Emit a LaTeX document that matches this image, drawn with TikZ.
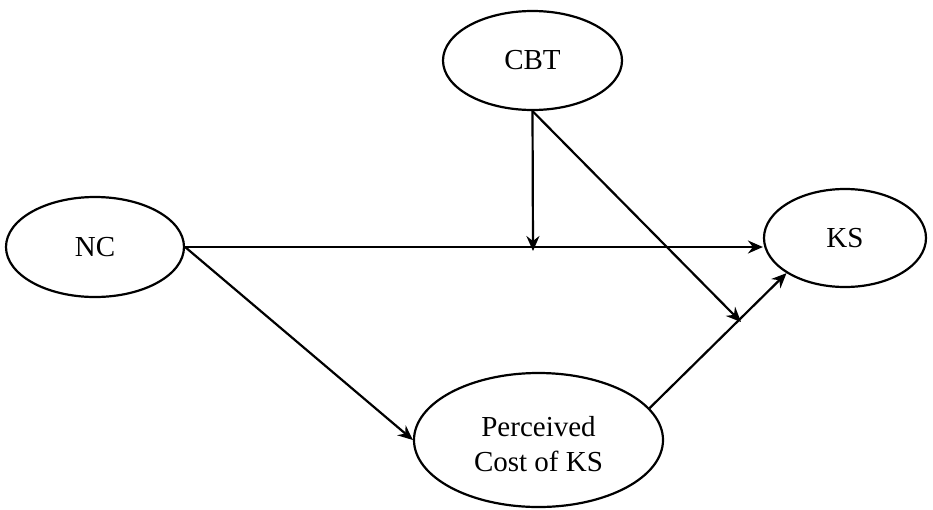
\documentclass[tikz,border=0pt]{standalone}
\usepackage{fontspec}
\setmainfont{Liberation Serif}
\usetikzlibrary{shapes.geometric,arrows.meta}
\begin{document}
\begin{tikzpicture}[x=1pt,y=-1pt,
  var/.style={draw,ellipse,line width=2.2pt,inner sep=0pt,align=center,
    font=\fontsize{29}{35}\selectfont},
  arr/.style={line width=2.2pt,-{Stealth[length=15pt,width=13pt,inset=5pt]}}]
\useasboundingbox (0,0) rectangle (933,509);
\node[var,minimum width=179pt,minimum height=99pt] (cbt) at (532.5,60.5) {CBT};
\node[var,minimum width=178pt,minimum height=100pt] (nc) at (95,247) {NC};
\node[var,minimum width=162pt,minimum height=98pt] (ks) at (845,238) {KS};
\node[var,minimum width=249pt,minimum height=134pt] (pc) at (538.5,440) {};
\node[font=\fontsize{29}{35}\selectfont,align=center] (pct) at (538.5,444) {Perceived\\Cost of KS};
\coordinate (m1) at (533,251);
\coordinate (m2) at (741,322);
\draw[arr] (nc.east) -- (ks.west |- nc.east);
\draw[arr] (cbt.south) -- (m1);
\draw[arr] (cbt.south) -- (m2);
\draw[arr] (nc.east) -- (pc.west);
\draw[arr] (pc.16.4) -- (ks.211);
\end{tikzpicture}
\end{document}
